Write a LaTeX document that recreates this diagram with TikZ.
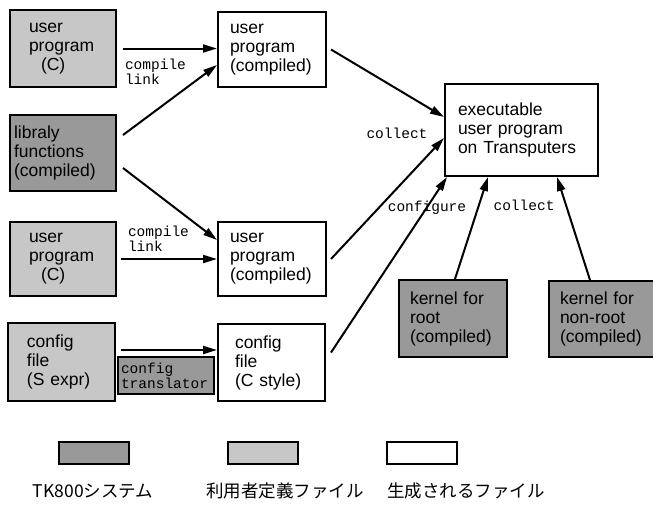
\documentclass[tikz,border=0pt]{standalone}
\usepackage{fontspec}
\setmainfont{Liberation Sans}
\setmonofont{Liberation Mono}
\newfontfamily\jpfont{Noto Sans CJK JP}
\usetikzlibrary{arrows.meta,calc}
\definecolor{sysgray}{gray}{0.60}
\definecolor{usrgray}{gray}{0.78}
\begin{document}
\begin{tikzpicture}[x=1pt,y=-1pt,
  box/.style={draw, line width=2pt, inner ysep=0pt, align=left,
    font=\fontsize{17.5}{19}\selectfont},
  sys/.style={box, fill=sysgray},
  usr/.style={box, fill=usrgray},
  gen/.style={box, fill=white},
  lbl/.style={font=\ttfamily\fontsize{14.5}{15}\selectfont, align=left, inner sep=0pt},
  legbox/.style={draw, line width=2pt, minimum width=70pt, minimum height=22pt, inner sep=0pt},
  leglbl/.style={font=\jpfont\fontsize{17.5}{19}\selectfont, inner sep=0pt},
  arr/.style={line width=2pt, -{Triangle[length=14pt,width=8pt]}}]
\useasboundingbox (0,0) rectangle (653,504);

% sources
\node[usr, minimum height=77pt, text width=68pt, inner xsep=19pt] (b1) at (63,48.5)
  {user\\program\\\hspace*{12pt}(C)};
\node[sys, minimum height=76pt, text width=98pt, inner xsep=4pt] (b2) at (63,153)
  {libraly\\functions\\(compiled)};
\node[usr, minimum height=74pt, text width=68pt, inner xsep=19pt] (b3) at (63,259)
  {user\\program\\\hspace*{12pt}(C)};
\node[usr, minimum height=78pt, text width=69pt, inner xsep=19pt] (b4) at (61.5,362)
  {config\\file\\(S expr)};
\node[sys, minimum height=37pt, text width=90pt, inner xsep=3pt,
  font=\ttfamily\fontsize{14.5}{15}\selectfont] (tr) at (166,375.5)
  {config\\translator};

% generated files
\node[gen, minimum height=75pt, text width=84pt, inner xsep=12pt] (c1) at (272,49.5)
  {user\\program\\(compiled)};
\node[gen, minimum height=74pt, text width=84pt, inner xsep=12pt] (c2) at (272,259)
  {user\\program\\(compiled)};
\node[gen, minimum height=77pt, text width=73pt, inner xsep=17pt] (c3) at (271.5,362.5)
  {config\\file\\(C style)};
\node[gen, minimum height=92pt, text width=127pt, inner xsep=13pt] (ex) at (521.5,130)
  {executable\\user program\\on Transputers};

% kernels
\node[sys, minimum height=77pt, text width=86pt, inner xsep=11pt] (k1) at (453,318.5)
  {kernel for\\root\\(compiled)};
\node[sys, minimum height=76pt, text width=86pt, inner xsep=11pt] (k2) at (603,319)
  {kernel for\\non-root\\(compiled)};

% connectors
\draw[arr] ([xshift=6pt]b1.east) -- (b1.east -| c1.west);
\draw[arr] ([xshift=6pt,yshift=18pt]b2.east) -- ([yshift=-15.5pt]c1.west);
\draw[arr] ([xshift=6pt,yshift=-15pt]b2.east) -- ([yshift=19pt]c2.west);
\draw[arr] ([xshift=4pt]b3.east) -- (b3.east -| c2.west);
\draw[arr] ([xshift=5pt,yshift=12pt]b4.east) -- ([yshift=12pt]b4.east -| c3.west);
\draw[arr] ([xshift=4pt]c1.east) -- ([yshift=13pt]ex.west);
\draw[arr] ([xshift=4pt]c2.east) -- ([yshift=-8pt]ex.west);
\draw[arr] ([xshift=5pt,yshift=10pt]c3.east) -- ([xshift=3pt]ex.south west);
\draw[arr] ([xshift=2pt]k1.north) -- ([xshift=-33.5pt]ex.south);
\draw[arr] ([xshift=-13pt]k2.north) -- ([xshift=35.5pt]ex.south);

% connector labels
\node[lbl] (cl1) at (155.5,72) {compile\\link};
\node[lbl] (cl2) at (158.5,239) {compile\\link};
\node[lbl] (col1) at (397,133) {collect};
\node[lbl] (cfg) at (427,208) {configure};
\node[lbl] (col2) at (524,205) {collect};

% legend
\node[legbox, fill=sysgray] (lg1) at (94,453) {};
\node[legbox, fill=usrgray] (lg2) at (263,453) {};
\node[legbox, fill=white] (lg3) at (422,453) {};
\node[leglbl] (lt1) at (93,491) {TK800システム};
\node[leglbl] (lt2) at (285,491) {利用者定義ファイル};
\node[leglbl] (lt3) at (466,491) {生成されるファイル};
\end{tikzpicture}
\end{document}
